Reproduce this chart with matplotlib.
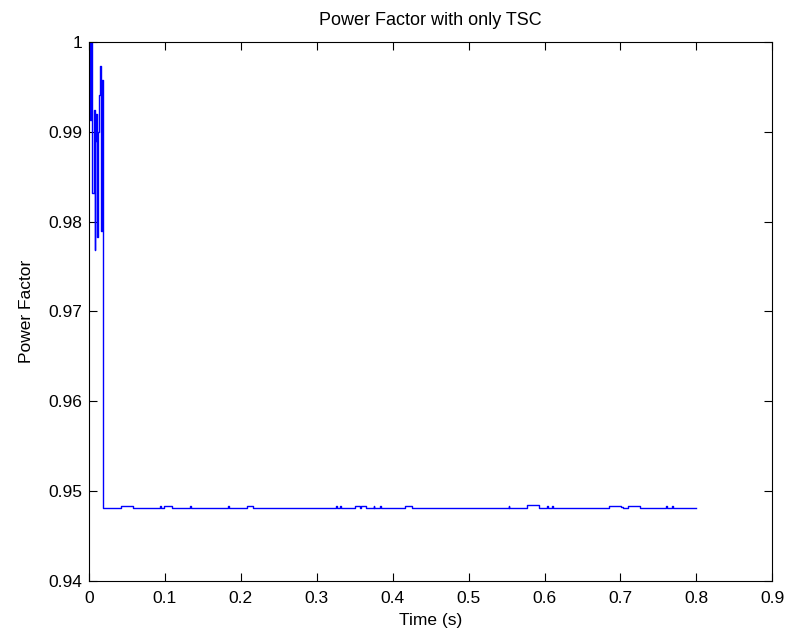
import numpy as np
import matplotlib.pyplot as plt

# step data (time in s, power factor)
t_transient = [0.0, 0.0009, 0.0030, 0.0043, 0.0060, 0.0075, 0.0085, 0.0095,
               0.0105, 0.0120, 0.0132, 0.0149, 0.0160, 0.0171, 0.0180]
pf_transient = [1.0, 0.9913, 1.0, 0.9832, 0.9924, 0.9768, 0.9890, 0.9920,
                0.9783, 0.9900, 0.9941, 0.9973, 0.9790, 0.9958, 0.9735]

t_steady = [0.0188, 0.0426, 0.0580, 0.0934, 0.0944, 0.0994, 0.1094, 0.1330,
            0.1340, 0.1833, 0.1843, 0.2080, 0.2160, 0.3250, 0.3260, 0.3310,
            0.3320, 0.3500, 0.3575, 0.3585, 0.3650, 0.3750, 0.3760, 0.3830,
            0.3840, 0.4168, 0.4256, 0.5528, 0.5538, 0.5765, 0.5924, 0.6030,
            0.6040, 0.6100, 0.6110, 0.6847, 0.7006, 0.7040, 0.7106, 0.7260,
            0.7598, 0.7608, 0.7686, 0.7696, 0.8000]
pf_steady = [0.9481, 0.9483, 0.9481, 0.9483, 0.9481, 0.9483, 0.9481, 0.9483,
             0.9481, 0.9483, 0.9481, 0.9483, 0.9481, 0.9483, 0.9481, 0.9483,
             0.9481, 0.9483, 0.9481, 0.9483, 0.9481, 0.9483, 0.9481, 0.9483,
             0.9481, 0.9483, 0.9481, 0.9483, 0.9481, 0.9485, 0.9481, 0.9483,
             0.9481, 0.9483, 0.9481, 0.9483, 0.9482, 0.9481, 0.9483, 0.9481,
             0.9483, 0.9481, 0.9483, 0.9481, 0.9481]

x_ticks = [0, 0.1, 0.2, 0.3, 0.4, 0.5, 0.6, 0.7, 0.8, 0.9]
x_labels = ['0', '0.1', '0.2', '0.3', '0.4', '0.5', '0.6', '0.7', '0.8', '0.9']
y_ticks = [0.94, 0.95, 0.96, 0.97, 0.98, 0.99, 1.0]
y_labels = ['0.94', '0.95', '0.96', '0.97', '0.98', '0.99', '1']

t = np.array(t_transient + t_steady)
pf = np.array(pf_transient + pf_steady)

plt.rcParams['font.family'] = ['Liberation Sans', 'DejaVu Sans']
plt.rcParams['font.size'] = 12.5

fig = plt.figure(figsize=(7.88, 6.42), dpi=100)
ax = fig.add_axes([0.113, 0.095, 0.867, 0.8396])

ax.plot(t, pf, color='#0000ff', linewidth=1.0, drawstyle='steps-post')

ax.set_xlim(0, 0.9)
ax.set_ylim(0.94, 1.0)
ax.set_xticks(x_ticks)
ax.set_xticklabels(x_labels)
ax.set_yticks(y_ticks)
ax.set_yticklabels(y_labels)
ax.tick_params(direction='in', top=True, right=True, length=6, width=0.8,
               labelsize=12.5)
ax.tick_params(axis='x', pad=7)
ax.tick_params(axis='y', pad=5)
for s in ax.spines.values():
    s.set_linewidth(0.8)

ax.set_title('Power Factor with only TSC', fontsize=13, pad=12)
ax.set_xlabel('Time (s)', fontsize=12.5, labelpad=5)
ax.set_ylabel('Power Factor', fontsize=12.5, labelpad=10)

fig.savefig('out.png', dpi=100)
